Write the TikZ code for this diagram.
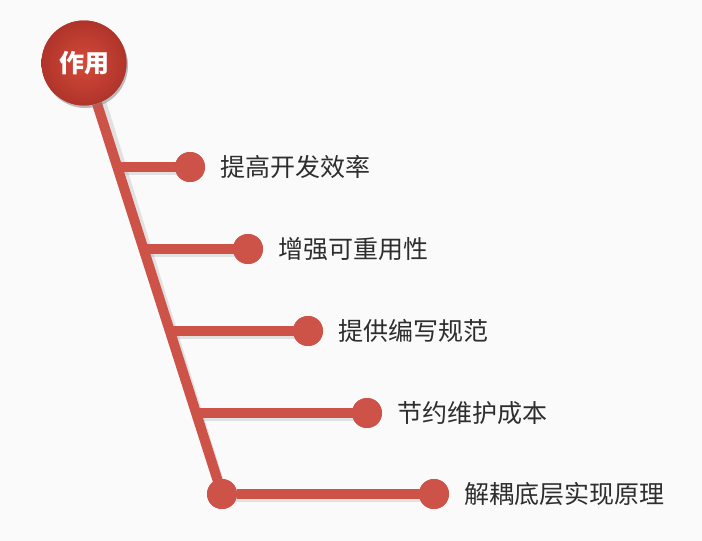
\documentclass[tikz,border=0pt]{standalone}
\usepackage{fontspec}
\setmainfont{Noto Sans CJK SC}
\usepackage{xcolor}
\usetikzlibrary{calc,
	positioning,
	shadows}
\definecolor{brick}{HTML}{CD5349}
\definecolor{brickdark}{HTML}{B0342A}
\definecolor{brickhi}{HTML}{D4493A}
\definecolor{txt}{HTML}{2E2E2E}
\tikzstyle{stem}=[draw=brick, line width=10pt]
\tikzstyle{knob}=[circle, fill=brick, minimum size=30pt, inner sep=0]
\tikzstyle{shd}=[draw=black!40, opacity=0.25, line width=10pt]
\tikzstyle{lbl}=[anchor=west, text=txt, font=\fontsize{25}{28}\selectfont, inner sep=0]
\tikzstyle{hubst}=[circle, minimum size=85pt, inner sep=0, inner color=brickhi,
		outer color=brickdark, text=white,
		font=\bfseries\fontsize{25}{28}\selectfont,
		drop shadow={opacity=0.3, shadow xshift=1.5pt, shadow yshift=-2.5pt}]

\begin{document}
\begin{tikzpicture}[x=1pt, y=-1pt]
                \fill[white!98!black] (0,0) rectangle (702,541);
                \useasboundingbox (0,0) rectangle (702,541);
                % points on the stem
                \coordinate (s1) at (121,167);
                \coordinate (s2) at (146,249);
                \coordinate (s3) at (172,331);
                \coordinate (s4) at (197,413);
                \node[knob] (s5) at (222,494) {};
                % end knobs
                \node[knob] (k1) at (190,167) {};
                \node[knob] (k2) at (248,249) {};
                \node[knob] (k3) at (308,331) {};
                \node[knob] (k4) at (367,413) {};
                \node[knob] (k5) at (434,494) {};
                % shadows
                \foreach \i in {1,...,5}
                    \draw[shd] ([shift={(1.5,3)}]s\i.center) -- ([shift={(1.5,3)}]k\i.center);
                \draw[shd] ($(100,100)+(1.5,3)$) -- ([shift={(1.5,3)}]s5.center);
                % stem and branches
                \node[hubst] (hub) at (84,63) {作用};
                \draw[stem] (hub) -- (s5.center);
                \foreach \i in {1,...,5}
                    \draw[stem] (s\i) -- (k\i.center);
                \foreach \i in {1,...,5}
                    \node[knob] at (k\i) {};
                \node[knob] at (s5) {};
                \node[hubst] at (hub) {作用};
                % labels
                \node[lbl, right=15pt of k1] (t1) {提高开发效率};
                \node[lbl, right=15pt of k2] (t2) {增强可重用性};
                \node[lbl, right=15pt of k3] (t3) {提供编写规范};
                \node[lbl, right=15pt of k4] (t4) {节约维护成本};
                \node[lbl, right=15pt of k5] (t5) {解耦底层实现原理};
            \end{tikzpicture}
\end{document}
